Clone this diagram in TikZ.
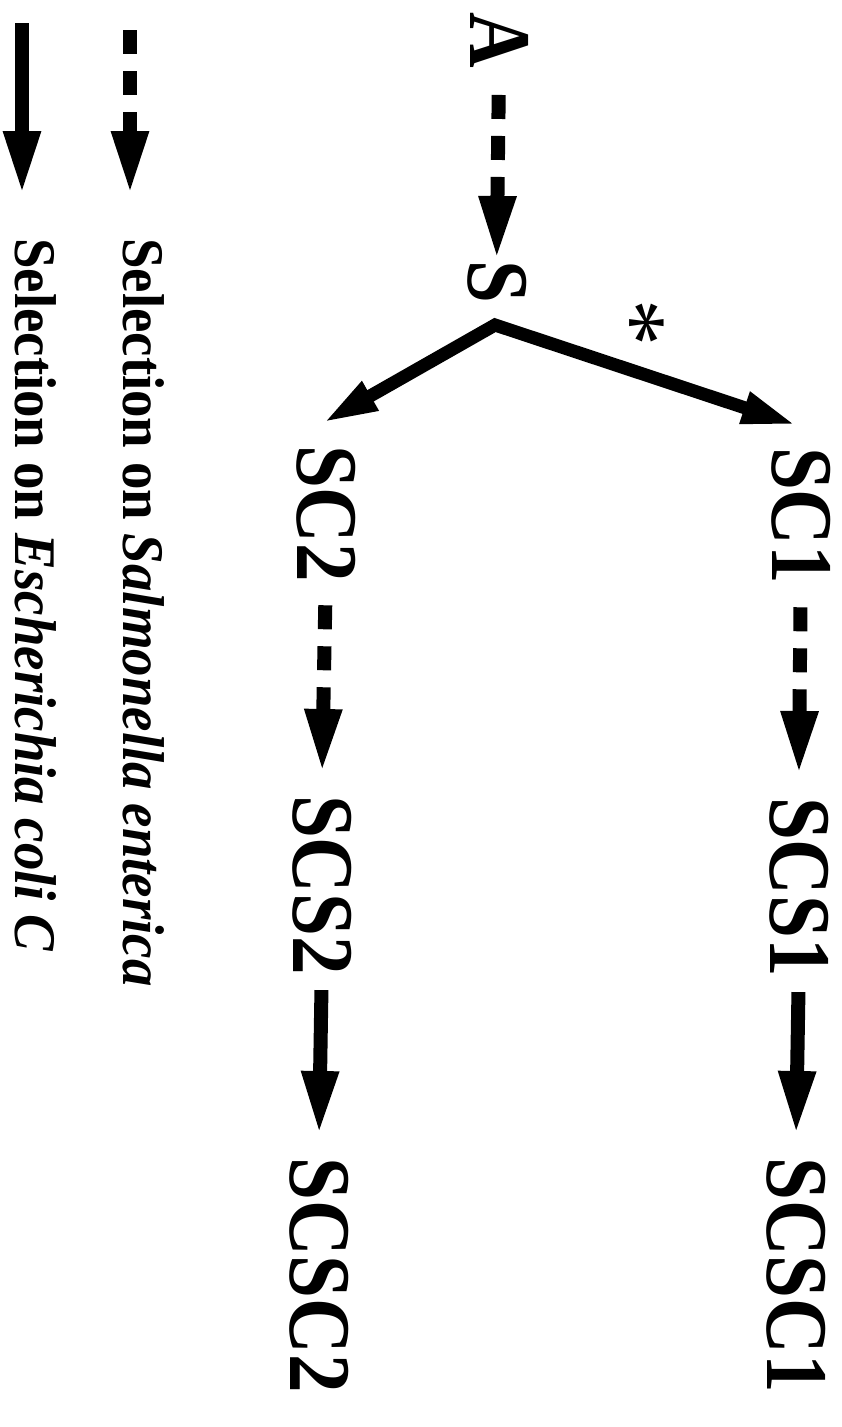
\documentclass[tikz,border=0pt]{standalone}
\usepackage{fontspec}
\setmainfont{Liberation Serif}
\usetikzlibrary{arrows.meta,calc}
\begin{document}
\begin{tikzpicture}[x=1pt,y=-1pt,
  lbl/.style={inner sep=0pt, rotate=-90, xscale=0.875, anchor=base west, font=\fontsize{88pt}{88pt}\selectfont\bfseries},
  leg/.style={inner sep=0pt, rotate=-90, xscale=0.93, anchor=base west, font=\fontsize{59pt}{59pt}\selectfont\bfseries},
  sel/.style={line width=14pt, -{Triangle[length=64pt,width=34pt]}},
  salm/.style={sel, dash pattern=on 24pt off 17pt},
  ecoli/.style={sel},
  forkarrow/.style={line width=13pt, line join=miter, {Triangle[length=55pt,width=30pt]}-{Triangle[length=55pt,width=30pt]}}
]
\useasboundingbox (0,0) rectangle (842,1427);

% main labels
\node[lbl] (A) at (470,12) {A};
\node[lbl] (S) at (468,260) {S};
\node[lbl] (SC1) at (772,447) {SC1};
\node[lbl] (SCS1) at (770,797) {SCS1};
\node[lbl] (SCSC1) at (767,1157) {SCSC1};
\node[lbl] (SC2) at (297,445) {SC2};
\node[lbl] (SCS2) at (293,795) {SCS2};
\node[lbl] (SCSC2) at (290,1157) {SCSC2};
\node[inner sep=0pt, rotate=-90, anchor=base, font=\fontsize{94pt}{94pt}\selectfont] (star) at (602,323) {*};

% legend
\node[leg] (L1) at (123,238) {Selection on \textit{Salmonella enterica}};
\node[leg] (L2) at (15,238) {Selection on \textit{Escherichia coli C}};
\coordinate (l1s) at (130,30);
\coordinate (l1e) at (130,195);
\coordinate (l2s) at (22,23);
\coordinate (l2e) at (22,195);
\draw[salm] (l1s) -- (l1e);
\draw[ecoli] (l2s) -- (l2e);

% connectors
\draw[salm, shorten <=27pt] (A.east) -- (S.west);
\coordinate (fork) at (495,325);
\draw[forkarrow] ($(SC2.west)+(-3,-22)$) -- (fork) -- ($(SC1.west)+(-4,-22)$);
\draw[salm, shorten <=23pt, shorten >=22pt] (SC1.east) -- (SCS1.west);
\draw[ecoli, shorten <=15pt, shorten >=22pt] (SCS1.east) -- (SCSC1.west);
\draw[salm, shorten <=23pt, shorten >=22pt] (SC2.east) -- (SCS2.west);
\draw[ecoli, shorten <=15pt, shorten >=22pt] (SCS2.east) -- (SCSC2.west);
\end{tikzpicture}
\end{document}
